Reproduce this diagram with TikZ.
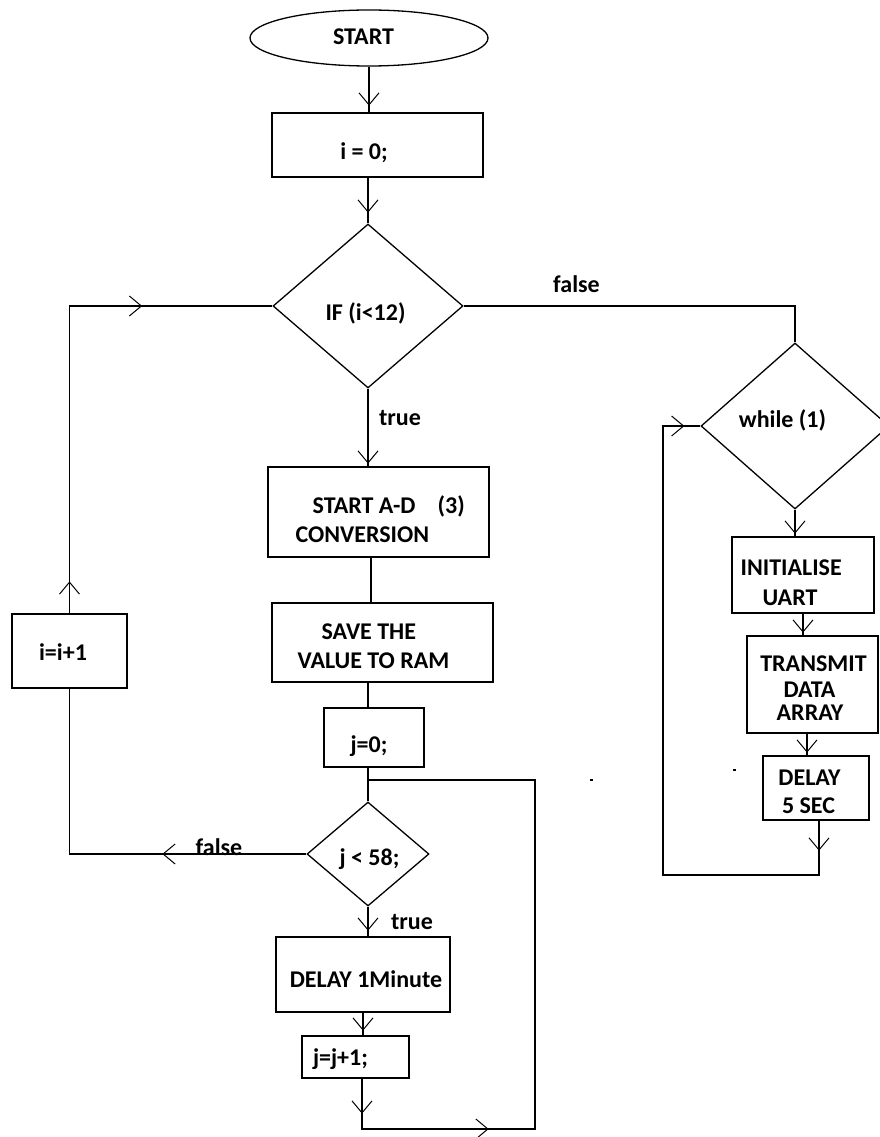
\documentclass[tikz,border=0pt]{standalone}
\usepackage{fontspec}
\setmainfont{Carlito}
\usetikzlibrary{shapes.geometric,arrows.meta,decorations.markings}
\begin{document}
\begin{tikzpicture}[x=1pt,y=-1pt,line width=1.3pt,
  shapebox/.style={draw,rectangle,inner sep=0pt},
  dia/.style={draw,diamond,inner sep=0pt},
  txt/.style={font=\fontsize{24}{28}\selectfont\bfseries,inner sep=0pt,anchor=base},
  txtl/.style={txt,anchor=base west},
  arrat/.style={postaction={decorate,decoration={markings,mark=at position #1 with {\arrow{Straight Barb[length=12pt,width=20pt,line width=1pt]}}}}}
]
\useasboundingbox (0,0) rectangle (880,1137);

% shapes
\node[draw,ellipse,inner sep=0pt,minimum width=238pt,minimum height=56pt] (start) at (369,38) {};
\node[shapebox,minimum width=211pt,minimum height=64pt] (i0) at (377.5,145) {};
\node[dia,minimum width=190pt,minimum height=164pt] (if) at (368,306) {};
\node[shapebox,minimum width=221pt,minimum height=90pt] (adc) at (378.5,512) {};
\node[shapebox,minimum width=221pt,minimum height=79pt] (save) at (382.5,642.5) {};
\node[shapebox,minimum width=100pt,minimum height=59pt] (j0) at (374,737.5) {};
\node[dia,minimum width=122pt,minimum height=104pt] (jl) at (368,854) {};
\node[shapebox,minimum width=174pt,minimum height=75pt] (delay1) at (363,974.5) {};
\node[shapebox,minimum width=107pt,minimum height=42pt] (jj) at (355.5,1057) {};
\node[shapebox,minimum width=115pt,minimum height=74pt] (ii) at (69.5,651) {};
\node[dia,minimum width=188pt,minimum height=166pt] (while) at (795,426) {};
\node[shapebox,minimum width=142pt,minimum height=76pt] (init) at (803,575) {};
\node[shapebox,minimum width=131pt,minimum height=97pt] (tx) at (812.5,684.5) {};
\node[shapebox,minimum width=106pt,minimum height=64pt] (d5) at (816,788) {};

% helper coordinates
\coordinate (lb) at (362,1129);
\coordinate (rb) at (535,1129);
\coordinate (rt) at (535,780);
\coordinate (jn) at (368,780);
\coordinate (wl) at (663,875);

% connectors
\draw[arrat=39pt] (start.south) -- (start.south |- i0.north);
\draw[arrat=35pt] (i0.south -| if.north) -- (if.north);
\draw[arrat=75pt] (if.south) -- (if.south |- adc.north);
\draw ([xshift=-7.5pt]adc.south) -- ([xshift=-7.5pt]adc.south |- save.north);
\draw (save.south -| jl.north) -- (jl.north |- j0.north);
\draw[arrat=34pt] (jl.north |- j0.south) -- (jl.north);
\draw[arrat=35pt,arrat=177pt] (jj.south -| lb) -- (lb) -- (rb) -- (rt) -- (jn);
\draw[arrat=144pt] (jl.west) -- (jl.west -| ii.south) -- (ii.south);
\draw[arrat=32pt,arrat=380pt] (ii.north) -- (ii.north |- if.west) -- (if.west);
\draw[arrat=24pt] (jl.south) -- (jl.south |- delay1.north);
\draw[arrat=18pt] (delay1.south) -- (delay1.south |- jj.north);
\draw (if.east) -- (if.east -| while.north) -- (while.north);
\draw[arrat=24pt] (while.south) -- (while.south |- init.north);
\draw[arrat=19pt] (init.south) -- (init.south |- tx.north);
\draw[arrat=19pt] ([xshift=-5.5pt]tx.south) -- ([xshift=-5.5pt]tx.south |- d5.north);
\draw[arrat=30pt,arrat=-16pt] ([xshift=3pt]d5.south) -- ([xshift=3pt]d5.south |- wl) -- (wl) -- (wl |- while.west) -- (while.west);

% stray specks
\fill (590,779) rectangle (593,781);
\fill (733,769) rectangle (736,771);

% texts
\node[txt] (tstart) at (363.5,45) {START};
\node[txt] (ti0) at (364,159) {i = 0;};
\node[txt] (tif) at (365.5,320) {IF (i<12)};
\node[txt] (ttrue1) at (400,425) {true};
\node[txtl] (tadc1) at (312,513) {START A-D\hspace{22pt}(3)};
\node[txtl] (tadc2) at (295,542) {CONVERSION};
\node[txtl] (tsave1) at (321,639) {SAVE THE};
\node[txtl] (tsave2) at (297,668) {VALUE TO RAM};
\node[txt] (tj0) at (369,752) {j=0;};
\node[txt] (tfalse2) at (219,855) {false};
\node[txt] (tjl) at (369.5,865) {j < 58;};
\node[txt] (ttrue2) at (412,929) {true};
\node[txt] (tdelay1) at (366,987) {DELAY 1Minute};
\node[txt] (tjj) at (340.5,1065) {j=j+1;};
\node[txt] (tii) at (63,660) {i=i+1};
\node[txt] (tfalse1) at (576.5,292) {false};
\node[txt] (twhile) at (782.5,427) {while (1)};
\node[txtl] (tinit1) at (740,575) {INITIALISE};
\node[txtl] (tinit2) at (762,605) {UART};
\node[txt] (ttx1) at (813.5,671) {TRANSMIT};
\node[txt] (ttx2) at (809.5,697) {DATA};
\node[txt] (ttx3) at (810,720) {ARRAY};
\node[txt] (td51) at (809.5,785) {DELAY};
\node[txt] (td52) at (808.5,813) {5 SEC};
\end{tikzpicture}
\end{document}
